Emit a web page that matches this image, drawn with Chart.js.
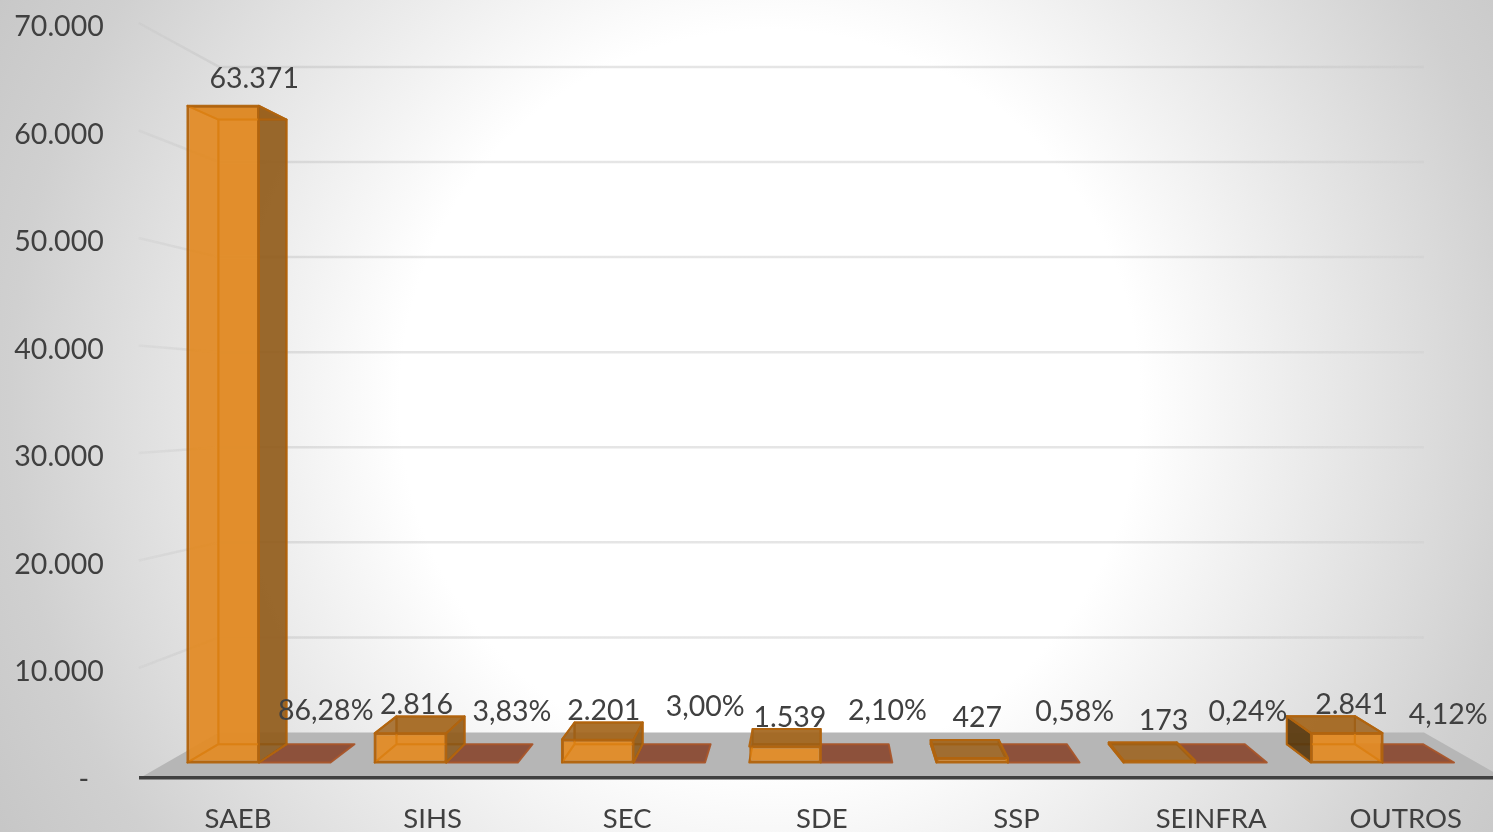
<!DOCTYPE html>
<html lang="pt-BR">
<head>
<meta charset="utf-8">
<title>Chart</title>
<script src="https://cdn.jsdelivr.net/npm/chart.js@4/dist/chart.umd.min.js"></script>
<style>
html,body{margin:0;padding:0;width:1493px;height:832px;overflow:hidden}
body{background:radial-gradient(ellipse 1000px 1000px at 770px 400px,#ffffff 0%,#ffffff 37%,#d0d0d0 76%,#bebebe 100%)}
canvas{display:block}
</style>
</head>
<body>
<canvas id="c" width="1503" height="832" style="width:1503px;height:832px"></canvas>
<script>
const categories = ['SAEB','SIHS','SEC','SDE','SSP','SEINFRA','OUTROS'];
const values = [63371,2816,2201,1539,427,173,2841];
const sharePct = [86.28,3.83,3.00,2.10,0.58,0.24,4.12];
const yTicks = [0,10000,20000,30000,40000,50000,60000,70000];

// hand-placed label offsets of the original, in px from each bar
const valueNudgeX = [31,6,6,5,5,4,5];
const valueNudgeY = [-27,-28.5,-29,-29,-40,-40,-28.5];
const shareNudgeX = [31,30,36,31,31,17,30];
const shareNudgeY = [-52,-51,-56,-52,-51,-51,-48];

// perspective of the 3D scene
const VX = 819, VY = 388, BAR_DEPTH = 0.951, WALL_DEPTH = 0.8845;
const proj = (x,y,k) => [VX + k*(x-VX), VY + k*(y-VY)];
const FONT = '28.5px Lato, sans-serif';
const TEXT = '#404040';

const fmt = v => String(v).replace(/\B(?=(\d{3})+(?!\d))/g,'.');
const fmtPct = v => v.toFixed(2).replace('.',',') + '%';

const poly = (ctx, pts, fill, stroke, lw) => {
  ctx.beginPath();
  pts.forEach((p,i)=> i ? ctx.lineTo(p[0],p[1]) : ctx.moveTo(p[0],p[1]));
  ctx.closePath();
  if (fill) { ctx.fillStyle = fill; ctx.fill(); }
  if (stroke) { ctx.strokeStyle = stroke; ctx.lineWidth = lw||2; ctx.lineJoin='round'; ctx.stroke(); }
};

const stylesBySeries = [
  {back:'rgba(226,135,30,.5)', hidden:'rgba(205,110,10,.12)', right:'rgba(135,85,25,.82)', left:'rgba(85,55,15,.9)', top:'rgba(155,95,25,.82)', edge:'rgba(178,100,14,.95)', inner:'rgba(218,125,15,.8)'},
  {back:null, hidden:null, right:null, left:null, top:'rgba(134,62,36,.84)', edge:'rgba(168,85,42,.95)'}
];

const scene = {
  id:'scene',
  beforeDraw(chart){
    const {ctx, chartArea:a, scales} = chart;
    ctx.save();
    // floor
    poly(ctx,[[a.left,a.bottom],[a.right,a.bottom],proj(a.right,a.bottom,WALL_DEPTH),proj(a.left,a.bottom,WALL_DEPTH)],'#b6b6b6');
    // wall and side wall grid
    ctx.lineWidth = 2.5;
    yTicks.slice(1).forEach(v=>{
      const y = scales.y.getPixelForValue(v);
      const p0 = [a.left-2,y-2], p1 = proj(a.left,y,WALL_DEPTH), p2 = proj(a.right,y,WALL_DEPTH);
      const sg = ctx.createLinearGradient(p0[0],0,p1[0],0);
      sg.addColorStop(0,'rgba(170,170,170,.1)');
      sg.addColorStop(1,'rgba(170,170,170,.25)');
      ctx.strokeStyle=sg;
      ctx.beginPath(); ctx.moveTo(p0[0],p0[1]); ctx.lineTo(p1[0],p1[1]); ctx.stroke();
      const wg = ctx.createLinearGradient(p1[0],0,p2[0],0);
      wg.addColorStop(0,'rgba(170,170,170,.3)');
      wg.addColorStop(0.85,'rgba(170,170,170,.3)');
      wg.addColorStop(1,'rgba(170,170,170,.12)');
      ctx.strokeStyle=wg;
      ctx.beginPath(); ctx.moveTo(p1[0],p1[1]); ctx.lineTo(p2[0],p2[1]); ctx.stroke();
    });
    ctx.restore();
  },
  beforeDatasetsDraw(chart){
    const {ctx} = chart;
    ctx.save();
    const draw = (ds,el) => {
      const s = stylesBySeries[ds];
      const l = el.x-el.width/2, r = el.x+el.width/2, t = el.y, b = el.base;
      const k = BAR_DEPTH;
      const ftl=[l,t], ftr=[r,t], fbl=[l,b], fbr=[r,b];
      const btl=proj(l,t,k), btr=proj(r,t,k), bbl=proj(l,b,k), bbr=proj(r,b,k);
      if (s.back) {
        poly(ctx,[btl,btr,bbr,bbl],s.back,s.edge,2);
        poly(ctx,[fbl,fbr,bbr,bbl],s.hidden,s.edge,2);
        if (r < VX) {
          poly(ctx,[ftl,btl,bbl,fbl],s.hidden,s.edge,2);
          poly(ctx,[ftr,btr,bbr,fbr],s.right,s.edge,2);
        } else if (l > VX) {
          poly(ctx,[ftr,btr,bbr,fbr],s.hidden,s.edge,2);
          poly(ctx,[ftl,btl,bbl,fbl],s.left,s.edge,2);
        }
      }
      poly(ctx,[ftl,ftr,btr,btl],s.top,s.edge,2);
    };
    const m0 = chart.getDatasetMeta(0).data, m1 = chart.getDatasetMeta(1).data;
    m0.forEach((el,i)=>{ draw(1,m1[i]); draw(0,el); });
    ctx.restore();
  },
  afterDatasetsDraw(chart){
    const {ctx} = chart;
    ctx.save();
    // edges of the box seen through the translucent front face
    chart.getDatasetMeta(0).data.forEach(el=>{
      const l = el.x-el.width/2, r = el.x+el.width/2, t = el.y, b = el.base, k = BAR_DEPTH;
      ctx.save();
      ctx.beginPath(); ctx.rect(l+1,t+1,r-l-2,b-t-2); ctx.clip();
      ctx.strokeStyle = stylesBySeries[0].inner; ctx.lineWidth = 2;
      const btl=proj(l,t,k), btr=proj(r,t,k), bbl=proj(l,b,k), bbr=proj(r,b,k);
      ctx.beginPath();
      ctx.moveTo(btl[0],btl[1]); ctx.lineTo(btr[0],btr[1]); ctx.lineTo(bbr[0],bbr[1]); ctx.lineTo(bbl[0],bbl[1]); ctx.closePath();
      ctx.moveTo(l,t); ctx.lineTo(btl[0],btl[1]);
      ctx.moveTo(l,b); ctx.lineTo(bbl[0],bbl[1]);
      ctx.moveTo(r,t); ctx.lineTo(btr[0],btr[1]);
      ctx.moveTo(r,b); ctx.lineTo(bbr[0],bbr[1]);
      ctx.stroke();
      ctx.restore();
    });
    ctx.font = FONT; ctx.fillStyle = TEXT; ctx.textAlign='center'; ctx.textBaseline='middle';
    chart.getDatasetMeta(0).data.forEach((el,i)=>{
      ctx.fillText(fmt(values[i]), el.x+valueNudgeX[i], el.y+valueNudgeY[i]);
    });
    chart.getDatasetMeta(1).data.forEach((el,i)=>{
      ctx.fillText(fmtPct(sharePct[i]), el.x+shareNudgeX[i], el.base+shareNudgeY[i]);
    });
    ctx.restore();
  }
};

new Chart(document.getElementById('c'),{
  type:'bar',
  data:{
    labels:categories,
    datasets:[
      {label:'Valor', xAxisID:'xBars', yAxisID:'yBars',
       data:values.map((v,i)=>({x:i,y:v})),
       backgroundColor:'rgba(226,140,40,.95)', borderColor:'rgba(178,100,14,.95)', borderWidth:2, borderSkipped:false},
      {label:'%', xAxisID:'xBars', yAxisID:'yBars',
       data:sharePct.map((v,i)=>({x:i,y:v/100})),
       backgroundColor:'rgba(134,62,36,.84)', borderColor:'rgba(168,85,42,.95)', borderWidth:0, borderSkipped:false}
    ]
  },
  options:{
    responsive:false, animation:false,
    layout:{padding:0},
    categoryPercentage:0.764, barPercentage:1,
    plugins:{legend:{display:false},tooltip:{enabled:false},title:{display:false}},
    scales:{
      x:{type:'category', position:'bottom', offset:true,
         grid:{display:false, drawTicks:false},
         border:{display:true,color:'#404040',width:3.5},
         ticks:{color:TEXT,font:{family:'Lato',size:27.5},padding:25,maxRotation:0,autoSkip:false},
         afterFit(s){s.height=54.5;s.paddingLeft=0;s.paddingRight=0;}},
      y:{type:'linear', position:'left', min:0, max:70000,
         grid:{display:false, drawTicks:false},
         border:{display:false},
         ticks:{stepSize:10000,color:TEXT,font:{family:'Lato',size:28.5},padding:37,labelOffset:2,
                callback:v=> v===0 ? '-  ' : fmt(v)},
         afterFit(s){s.width=140.7;s.paddingTop=25;s.paddingBottom=0;}},
      xBars:{type:'linear', display:false, offset:false, min:-0.6318, max:6.6436,
         afterBuildTicks(s){s.ticks=categories.map((_,i)=>({value:i}));}},
      yBars:{type:'linear', display:false, min:-1446.5, max:71167}
    }
  },
  plugins:[scene]
});
</script>
</body>
</html>
